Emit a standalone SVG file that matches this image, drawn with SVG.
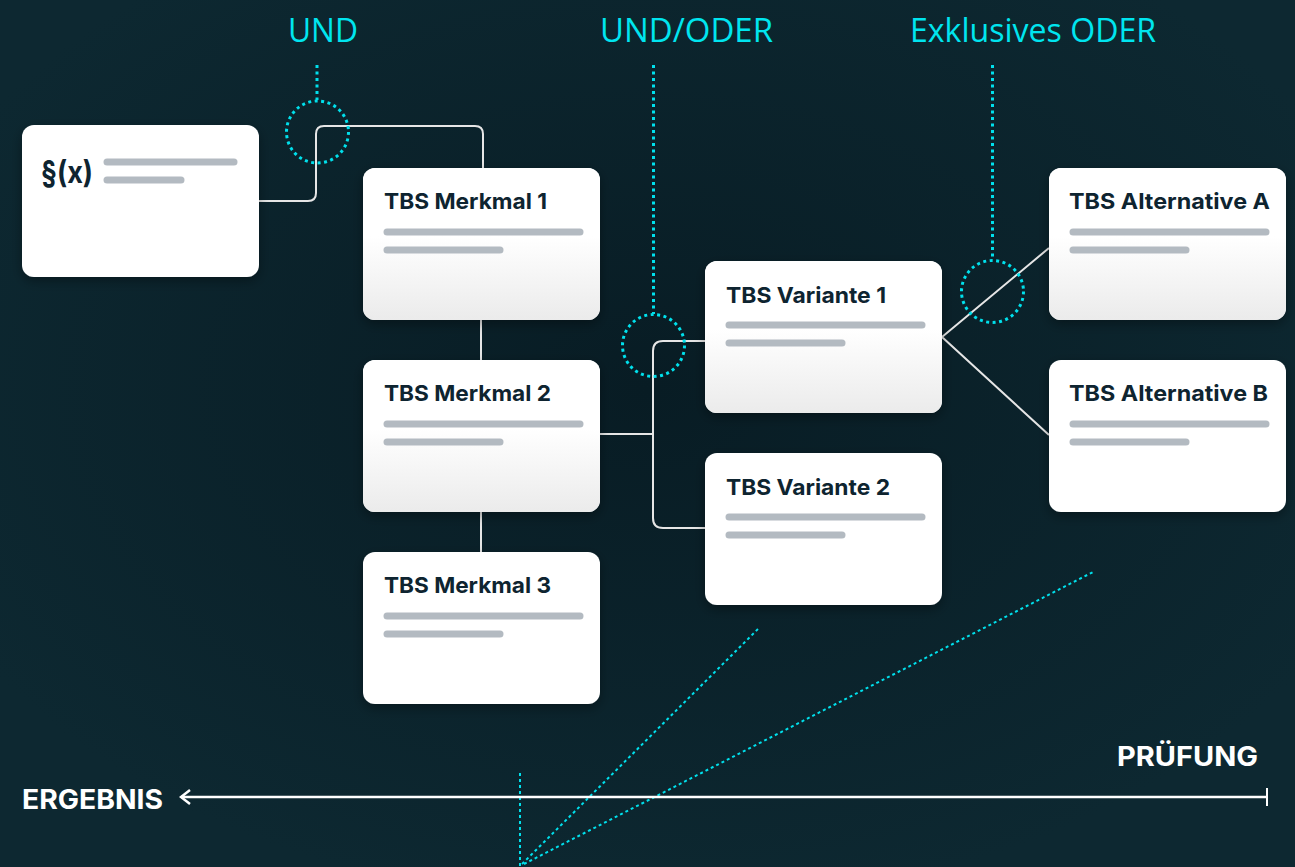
<svg xmlns="http://www.w3.org/2000/svg" width="1295" height="867" viewBox="0 0 1295 867">
  <defs>
    <radialGradient id="bg" cx="0.5" cy="0.45" r="0.6">
      <stop offset="0" stop-color="#081c24"/>
      <stop offset="1" stop-color="#0d2831"/>
    </radialGradient>
    <linearGradient id="cardFade" x1="0" y1="0" x2="0" y2="1">
      <stop offset="0.45" stop-color="#ffffff"/>
      <stop offset="1" stop-color="#ebebeb"/>
    </linearGradient>
    <filter id="shadow" x="-20%" y="-20%" width="140%" height="150%">
      <feDropShadow dx="0" dy="4" stdDeviation="6" flood-color="#000" flood-opacity="0.35"/>
    </filter>
    <marker id="arrowOpen" viewBox="0 0 12 16" refX="10" refY="8" markerWidth="12" markerHeight="16" markerUnits="userSpaceOnUse" orient="auto">
      <path d="M1 1 L10 8 L1 15" fill="none" stroke="#ffffff" stroke-width="2.5"/>
    </marker>
  </defs>
  <style>
    .card { fill: #ffffff; filter: url(#shadow); }
    .fade { fill: url(#cardFade); }
    .title { font-family: Inter, "Liberation Sans", sans-serif; font-weight: 700; font-size: 22px; fill: #0e2430; }
    .para { font-size: 31px; }
    .bar { stroke: #b3bac1; stroke-width: 7; stroke-linecap: round; }
    .link { fill: none; stroke: #e6e6e6; stroke-width: 2; }
    .dots { fill: none; stroke: #00e0ec; stroke-width: 3; stroke-dasharray: 3 3.5; }
    .thin { fill: none; stroke: #00e0ec; stroke-width: 2; stroke-dasharray: 3 3; }
    .op { font-family: "Open Sans", "Liberation Sans", sans-serif; font-size: 32px; fill: #00e5ef; }
    .axis { font-family: Inter, "Liberation Sans", sans-serif; font-weight: 700; font-size: 27px; fill: #ffffff; }
  </style>

  <rect width="1295" height="867" fill="url(#bg)"/>

  <!-- operator headings -->
  <text class="op" x="288" y="42" textLength="70" lengthAdjust="spacingAndGlyphs">UND</text>
  <text class="op" x="600" y="42" textLength="173" lengthAdjust="spacingAndGlyphs">UND/ODER</text>
  <text class="op" x="910" y="42" textLength="246" lengthAdjust="spacingAndGlyphs">Exklusives ODER</text>

  <!-- connectors -->
  <g id="connectors">
    <path class="link" d="M259 201 H308 Q316 201 316 193 V134 Q316 126 324 126 H475 Q483 126 483 134 V168"/>
    <line class="link" x1="481" y1="320" x2="481" y2="360"/>
    <line class="link" x1="481" y1="512" x2="481" y2="552"/>
    <path class="link" d="M600 434 H653"/>
    <path class="link" d="M705 341 H663 Q653 341 653 351 V518 Q653 528 663 528 H705"/>
    <path class="link" d="M1049 248 L942 337 L1049 435"/>
  </g>

  <!-- operator markers -->
  <g id="op-und">
    <line class="dots" x1="317" y1="65" x2="317" y2="100"/>
    <circle class="dots" cx="317.5" cy="132" r="31"/>
  </g>
  <g id="op-und-oder">
    <line class="dots" x1="653.5" y1="65" x2="653.5" y2="314"/>
    <circle class="dots" cx="653.5" cy="345.5" r="31"/>
  </g>
  <g id="op-xor">
    <line class="dots" x1="992.5" y1="65" x2="992.5" y2="260"/>
    <circle class="dots" cx="992.5" cy="291.5" r="31"/>
  </g>

  <!-- cards -->
  <g id="paragraph">
    <rect class="card" x="22" y="125" width="237" height="152" rx="12"/>
    <text class="title para" x="41" y="183" textLength="52" lengthAdjust="spacingAndGlyphs">§(x)</text>
    <line class="bar" x1="107" y1="162" x2="234" y2="162"/>
    <line class="bar" x1="107" y1="180" x2="181" y2="180"/>
  </g>
  <g id="merkmal-1">
    <rect class="card" x="363" y="168" width="237" height="152" rx="12"/>
    <rect class="fade" x="363" y="168" width="237" height="152" rx="12"/>
    <text class="title" x="384" y="209" textLength="163" lengthAdjust="spacingAndGlyphs">TBS Merkmal 1</text>
    <line class="bar" x1="387" y1="232" x2="580" y2="232"/>
    <line class="bar" x1="387" y1="250" x2="500" y2="250"/>
  </g>
  <g id="merkmal-2">
    <rect class="card" x="363" y="360" width="237" height="152" rx="12"/>
    <rect class="fade" x="363" y="360" width="237" height="152" rx="12"/>
    <text class="title" x="384" y="401" textLength="167" lengthAdjust="spacingAndGlyphs">TBS Merkmal 2</text>
    <line class="bar" x1="387" y1="424" x2="580" y2="424"/>
    <line class="bar" x1="387" y1="442" x2="500" y2="442"/>
  </g>
  <g id="merkmal-3">
    <rect class="card" x="363" y="552" width="237" height="152" rx="12"/>
    <text class="title" x="384" y="593" textLength="167" lengthAdjust="spacingAndGlyphs">TBS Merkmal 3</text>
    <line class="bar" x1="387" y1="616" x2="580" y2="616"/>
    <line class="bar" x1="387" y1="634" x2="500" y2="634"/>
  </g>
  <g id="variante-1">
    <rect class="card" x="705" y="261" width="237" height="152" rx="12"/>
    <rect class="fade" x="705" y="261" width="237" height="152" rx="12"/>
    <text class="title" x="726" y="303" textLength="160" lengthAdjust="spacingAndGlyphs">TBS Variante 1</text>
    <line class="bar" x1="729" y1="325" x2="922" y2="325"/>
    <line class="bar" x1="729" y1="343" x2="842" y2="343"/>
  </g>
  <g id="variante-2">
    <rect class="card" x="705" y="453" width="237" height="152" rx="12"/>
    <text class="title" x="726" y="495" textLength="164" lengthAdjust="spacingAndGlyphs">TBS Variante 2</text>
    <line class="bar" x1="729" y1="517" x2="922" y2="517"/>
    <line class="bar" x1="729" y1="535" x2="842" y2="535"/>
  </g>
  <g id="alternative-a">
    <rect class="card" x="1049" y="168" width="237" height="152" rx="12"/>
    <rect class="fade" x="1049" y="168" width="237" height="152" rx="12"/>
    <text class="title" x="1069" y="209" textLength="201" lengthAdjust="spacingAndGlyphs">TBS Alternative A</text>
    <line class="bar" x1="1073" y1="232" x2="1266" y2="232"/>
    <line class="bar" x1="1073" y1="250" x2="1186" y2="250"/>
  </g>
  <g id="alternative-b">
    <rect class="card" x="1049" y="360" width="237" height="152" rx="12"/>
    <text class="title" x="1069" y="401" textLength="199" lengthAdjust="spacingAndGlyphs">TBS Alternative B</text>
    <line class="bar" x1="1073" y1="424" x2="1266" y2="424"/>
    <line class="bar" x1="1073" y1="442" x2="1186" y2="442"/>
  </g>

  <!-- bottom sight lines -->
  <g id="sight-lines">
    <line class="thin" x1="520" y1="773" x2="520" y2="867"/>
    <line class="thin" x1="522" y1="864" x2="759" y2="628"/>
    <line class="thin" x1="524" y1="864" x2="1095" y2="571"/>
  </g>

  <!-- axis -->
  <g id="axis">
    <line x1="1267" y1="797" x2="181" y2="797" stroke="#ffffff" stroke-width="2.5" marker-end="url(#arrowOpen)"/>
    <line x1="1267" y1="788" x2="1267" y2="806" stroke="#ffffff" stroke-width="2"/>
    <text class="axis" x="22" y="809" textLength="141" lengthAdjust="spacingAndGlyphs">ERGEBNIS</text>
    <text class="axis" x="1117" y="766" textLength="141" lengthAdjust="spacingAndGlyphs">PRÜFUNG</text>
  </g>
</svg>
